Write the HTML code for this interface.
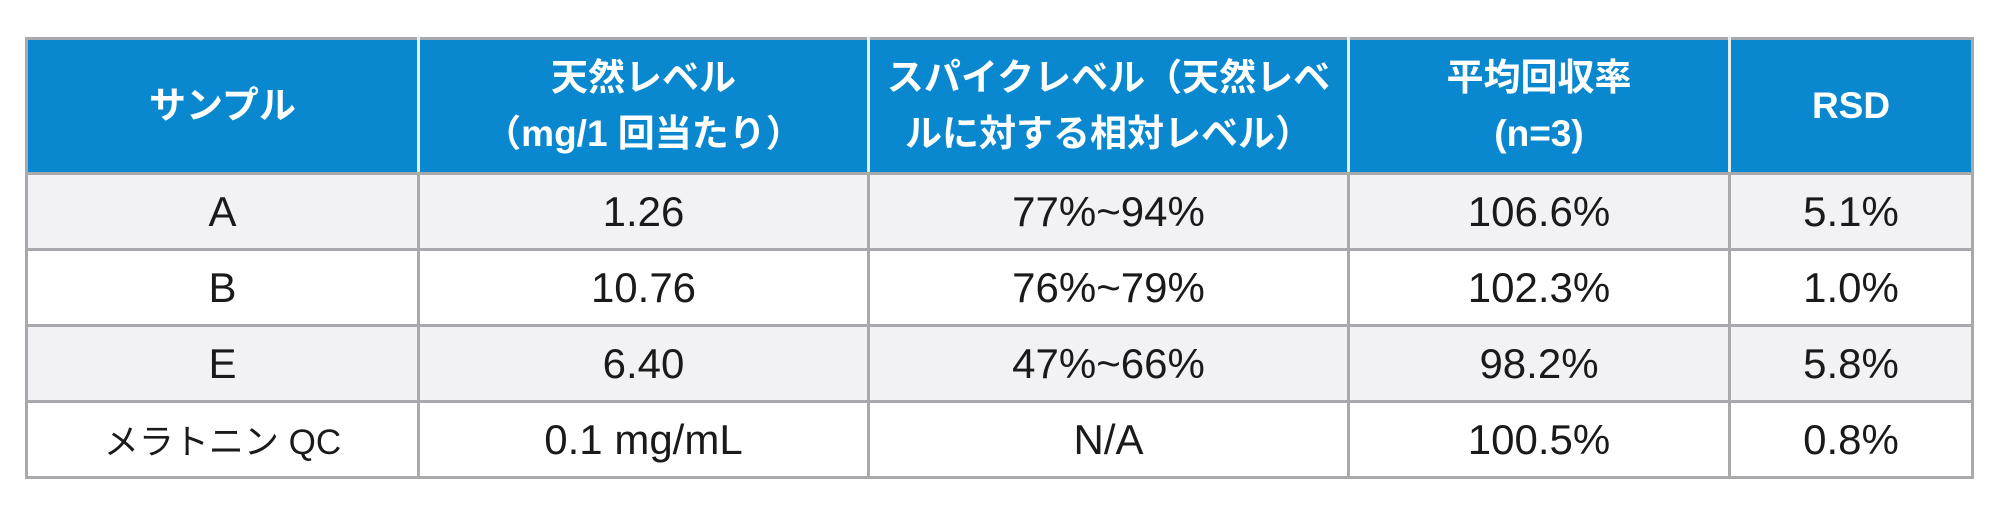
<!DOCTYPE html>
<html lang="ja">
<head>
<meta charset="utf-8">
<style>
  html, body { margin:0; padding:0; background:#ffffff; }
  body { width:2000px; height:525px; position:relative; overflow:hidden;
         font-family:"Liberation Sans","Noto Sans CJK JP",sans-serif; }
  table { position:absolute; left:25px; top:37px; border-collapse:collapse; table-layout:fixed; }
  td, th { border:3px solid #a7a9ac; text-align:center; vertical-align:middle; padding:0; }
  th { background:#0a88cf; color:#ffffff; font-weight:bold; font-size:37px; line-height:56px; height:132px; }
  th { border-left-color:#e6eef5; border-right-color:#e6eef5; }
  th:first-child { border-left-color:#a7a9ac; }
  th:last-child { border-right-color:#a7a9ac; }
  td { font-size:42px; color:#1a1a1a; height:73px; }
  tr.alt td { background:#f2f2f4; }
  td.jp { font-size:35px; }
</style>
</head>
<body>
<table>
  <colgroup>
    <col style="width:392px"><col style="width:450px"><col style="width:480px"><col style="width:381px"><col style="width:243px">
  </colgroup>
  <thead>
    <tr>
      <th>サンプル</th>
      <th>天然レベル<br>（mg/1 回当たり）</th>
      <th>スパイクレベル（天然レベ<br>ルに対する相対レベル）</th>
      <th>平均回収率<br>(n=3)</th>
      <th>RSD</th>
    </tr>
  </thead>
  <tbody>
    <tr class="alt">
      <td>A</td>
      <td>1.26</td>
      <td>77%~94%</td>
      <td>106.6%</td>
      <td>5.1%</td>
    </tr>
    <tr>
      <td>B</td>
      <td>10.76</td>
      <td>76%~79%</td>
      <td>102.3%</td>
      <td>1.0%</td>
    </tr>
    <tr class="alt">
      <td>E</td>
      <td>6.40</td>
      <td>47%~66%</td>
      <td>98.2%</td>
      <td>5.8%</td>
    </tr>
    <tr>
      <td class="jp">メラトニン QC</td>
      <td>0.1 mg/mL</td>
      <td>N/A</td>
      <td>100.5%</td>
      <td>0.8%</td>
    </tr>
  </tbody>
</table>
</body>
</html>
